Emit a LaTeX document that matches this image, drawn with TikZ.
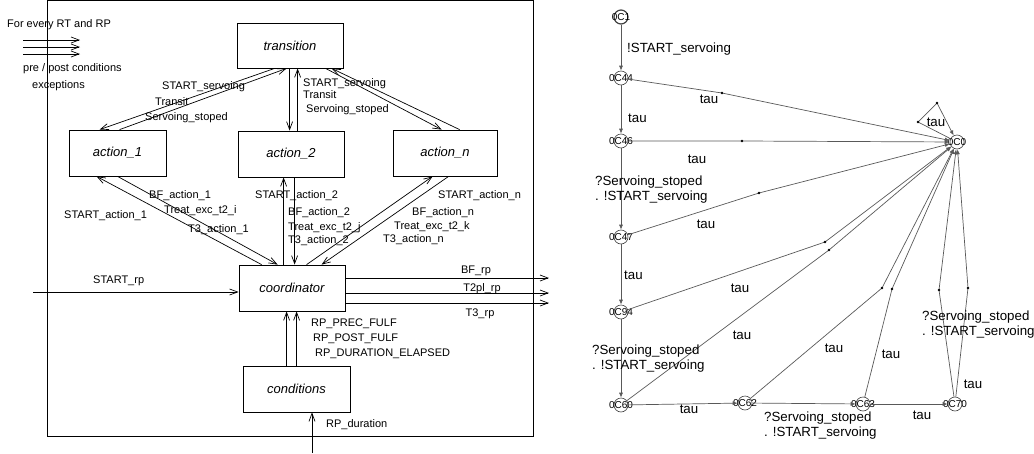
\documentclass[tikz,border=0pt]{standalone}
\usepackage{fontspec}
\setmainfont{Liberation Sans}
\usetikzlibrary{arrows.meta,calc}
\begin{document}
\begin{tikzpicture}[x=1pt,y=-1pt,
  ln/.style={line width=0.7pt,draw=black},
  arr/.style={ln,-{Straight Barb[length=8pt,width=6pt,line width=0.7pt]}},
  box/.style={draw,line width=0.8pt,minimum height=46pt,inner sep=0pt,font=\fontsize{13}{15}\selectfont\itshape},
  lbl/.style={anchor=base west,inner sep=0pt,font=\fontsize{11}{13}\selectfont},
  clbl/.style={lbl,anchor=base},
  rlbl/.style={anchor=base west,inner sep=0pt,font=\fontsize{13.3}{15}\selectfont,align=left},
  crlbl/.style={rlbl,anchor=base},
  st/.style={circle,draw=black!75,line width=0.6pt,minimum size=14pt,inner sep=0pt},
  stl/.style={label={[inner sep=0pt,font=\fontsize{10}{10}\selectfont]center:#1}},
  redge/.style={line width=0.7pt,draw=black!65,-{Latex[length=5pt,width=4pt]}},
  dot/.style={fill=black}
]
\useasboundingbox (0,0) rectangle (1034,453);

% ---------------- left diagram ----------------
\draw[line width=0.8pt] (47,0.5) rectangle (533,436);

\node[lbl] (t0) at (7,27) {For every RT and RP};
\coordinate (p1s) at (23,40); \coordinate (p1e) at (80,40);
\coordinate (p2s) at (23,47); \coordinate (p2e) at (80,47);
\coordinate (p3s) at (23,54); \coordinate (p3e) at (80,54);
\draw[arr] (p1s) -- (p1e);
\draw[arr] (p2s) -- (p2e);
\draw[arr] (p3s) -- (p3e);
\node[lbl] (t1) at (23,71) {pre / post conditions};
\node[lbl] (t2) at (32,88) {exceptions};

\node[box,minimum width=106pt,minimum height=45pt] (tr) at (290,45.5) {transition};
\node[box,minimum width=97pt] (a1) at (117.5,153) {action\_1};
\node[box,minimum width=106pt] (a2) at (291,154) {action\_2};
\node[box,minimum width=104pt] (an) at (445,153) {action\_n};
\node[box,minimum width=106pt] (co) at (292,288) {coordinator};
\node[box,minimum width=107pt] (cd) at (296.5,389) {conditions};

% transition <-> actions
\draw[arr] ([xshift=38pt]tr.south west) -- ([xshift=31pt]a1.north west);
\draw[arr] ([xshift=51pt]a1.north west) -- ([xshift=50pt]tr.south west);
\draw[arr] ([xshift=53pt]tr.south west) -- ([xshift=52pt]a2.north west);
\draw[arr] ([xshift=60pt]a2.north west) -- ([xshift=61pt]tr.south west);
\draw[arr] ([xshift=89pt]tr.south west) -- ([xshift=49pt]an.north west);
\draw[arr] ([xshift=67pt]an.north west) -- ([xshift=95pt]tr.south west);

% actions <-> coordinator
\draw[arr] ([xshift=23pt]co.north west) -- ([xshift=28pt]a1.south west);
\draw[arr] ([xshift=49pt]a1.south west) -- ([xshift=39pt]co.north west);
\draw[arr] ([xshift=45pt]co.north west) -- ([xshift=46pt]a2.south west);
\draw[arr] ([xshift=57pt]a2.south west) -- ([xshift=56pt]co.north west);
\draw[arr] ([xshift=68pt]co.north west) -- ([xshift=40pt]an.south west);
\draw[arr] ([xshift=56pt]an.south west) -- ([xshift=83pt]co.north west);

% coordinator in/out
\coordinate (rpin) at (33,292);
\draw[arr] (rpin) -- (rpin -| co.west);
\coordinate (o1) at (549,278);
\coordinate (o2) at (549,293);
\coordinate (o3) at (549,303);
\draw[arr] (o1 -| co.east) -- (o1);
\draw[arr] (o2 -| co.east) -- (o2);
\draw[arr] (o3 -| co.east) -- (o3);

% conditions -> coordinator
\draw[arr] ([xshift=44pt]cd.north west) -- ([xshift=48pt]co.south west);
\draw[arr] ([xshift=54pt]cd.north west) -- ([xshift=58pt]co.south west);
\coordinate (rpd) at (312,453);
\draw[arr] (rpd) -- (rpd |- cd.south);

% labels
\node[lbl] at (162,89) {START\_servoing};
\node[lbl] at (155,105) {Transit};
\node[lbl] at (145,120) {Servoing\_stoped};
\node[lbl] at (303,86) {START\_servoing};
\node[lbl] at (303,98) {Transit};
\node[lbl] at (306,112) {Servoing\_stoped};

\node[lbl] at (149,198) {BF\_action\_1};
\node[lbl] at (164,213) {Treat\_exc\_t2\_i};
\node[lbl] at (188,232) {T3\_action\_1};
\node[lbl] at (64,218) {START\_action\_1};
\node[lbl] at (255,198) {START\_action\_2};
\node[lbl] at (288,215) {BF\_action\_2};
\node[lbl] at (288,230) {Treat\_exc\_t2\_j};
\node[lbl] at (288,243) {T3\_action\_2};
\node[lbl] at (438,198) {START\_action\_n};
\node[lbl] at (412,215) {BF\_action\_n};
\node[lbl] at (394,229) {Treat\_exc\_t2\_k};
\node[lbl] at (383,242) {T3\_action\_n};

\node[lbl] at (93,283) {START\_rp};
\node[clbl] at (476,273) {BF\_rp};
\node[clbl] at (482,291) {T2pl\_rp};
\node[clbl] at (480,316) {T3\_rp};
\node[lbl] at (311,326) {RP\_PREC\_FULF};
\node[lbl] at (313,341) {RP\_POST\_FULF};
\node[lbl] at (315,356) {RP\_DURATION\_ELAPSED};
\node[lbl] at (326,427) {RP\_duration};

% ---------------- right graph ----------------
\node[st,stl=0C1,line width=1.2pt] (n1) at (621,17) {};
\node[st,stl=0C44] (n44) at (621,78) {};
\node[st,stl=0C46] (n46) at (621,141) {};
\node[st,stl=0C47] (n47) at (621,237) {};
\node[st,stl=0C94] (n94) at (621,312) {};
\node[st,stl=0C60] (n60) at (621,405) {};
\node[st,stl=0C62] (n62) at (745,403) {};
\node[st,stl=0C63] (n63) at (863,404) {};
\node[st,stl=0C70] (n70) at (955,404) {};
\node[st,stl=0C0] (n0) at (957,142) {};

\coordinate (d44) at (722,93);
\coordinate (d46) at (742,141);
\coordinate (d47) at (759,193);
\coordinate (d94) at (825,242);
\coordinate (d60) at (829,250);
\coordinate (d62) at (882,288);
\coordinate (d63) at (892,289);
\coordinate (d70a) at (939,290);
\coordinate (d70b) at (968,288);
\coordinate (sl1) at (918,122);
\coordinate (sl2) at (937,103);

\draw[redge] (n1) -- (n44);
\draw[redge] (n44) -- (n46);
\draw[redge] (n46) -- (n47);
\draw[redge] (n47) -- (n94);
\draw[redge] (n94) -- (n60);
\draw[redge] (n60) -- (n62);
\draw[redge] (n62) -- (n63);
\draw[redge] (n63) -- (n70);
\draw[redge] (n44) -- (d44) -- (n0);
\draw[redge] (n46) -- (d46) -- (n0);
\draw[redge] (n47) -- (d47) -- (n0);
\draw[redge] (n94) -- (d94) -- (n0);
\draw[redge] (n60) -- (d60) -- (n0);
\draw[redge] (n62) -- (d62) -- (n0);
\draw[redge] (n63) -- (d63) -- (n0);
\draw[redge] (n70) -- (d70a) -- (n0);
\draw[redge] (n70) -- (d70b) -- (n0);
\draw[redge] (n0) -- (sl1) -- (sl2) -- (n0);
\foreach \d in {d44,d46,d47,d94,d60,d62,d63,d70a,d70b,sl1,sl2}
  \fill[dot] (\d) circle (1.3);

\node[rlbl] at (627,52) {!START\_servoing};
\node[rlbl] at (628,122) {tau};
\node[crlbl] at (709,103) {tau};
\node[crlbl] at (697,163) {tau};
\node[rlbl] at (595,200) {?Servoing\_stoped\\. !START\_servoing};
\node[crlbl] at (706,228) {tau};
\node[rlbl] at (624,279) {tau};
\node[crlbl] at (740,292) {tau};
\node[rlbl] at (592,369) {?Servoing\_stoped\\. !START\_servoing};
\node[crlbl] at (742,339) {tau};
\node[crlbl] at (689,413) {tau};
\node[crlbl] at (834,352) {tau};
\node[rlbl] at (764,436) {?Servoing\_stoped\\. !START\_servoing};
\node[crlbl] at (891,358) {tau};
\node[crlbl] at (922,419) {tau};
\node[crlbl] at (973,388) {tau};
\node[rlbl] at (922,335) {?Servoing\_stoped\\. !START\_servoing};
\node[crlbl] at (936,126) {tau};
\end{tikzpicture}
\end{document}
